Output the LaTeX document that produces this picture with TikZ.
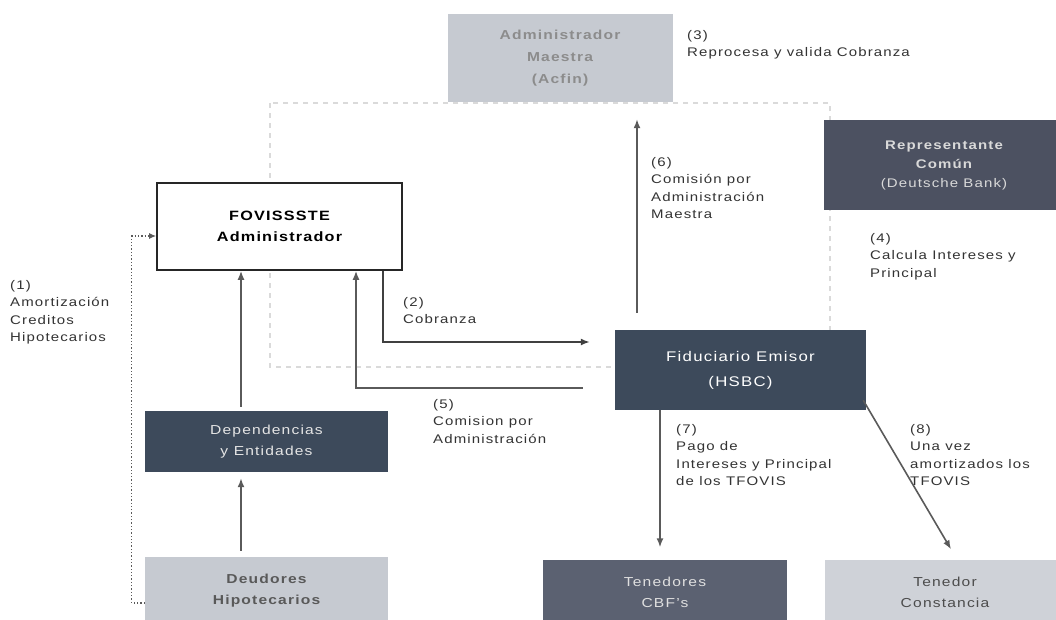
\documentclass[tikz,border=0pt]{standalone}
\usepackage{fontspec}
\setmainfont{Liberation Sans}[FakeStretch=1.2,LetterSpace=9]
\usepackage{xcolor}
\usepackage{tikz}
\usetikzlibrary{calc,arrows.meta}
\definecolor{slate}{HTML}{3D4A5B}
\definecolor{slatemid}{HTML}{5B6171}
\definecolor{slaterep}{HTML}{4C5161}
\definecolor{pale}{HTML}{C6CAD1}
\definecolor{paler}{HTML}{CFD2D8}
\definecolor{arrowgray}{HTML}{5A5A5A}
\definecolor{framegray}{HTML}{DADADA}

\begin{document}
\begin{tikzpicture}[x=1pt,y=-1pt,
    box/.style={inner sep=0pt,align=center,font=\fontsize{13}{21}\selectfont},
    lbl/.style={anchor=north west,inner sep=0pt,align=left,text=black!80,font=\fontsize{12.5}{17.5}\selectfont},
    arr/.style={draw=arrowgray,line width=1.6pt,-{Latex[length=9pt,width=7pt]}}]
    \useasboundingbox (0,0) rectangle (1056,619);
    \draw[framegray,line width=2pt,dash pattern=on 5pt off 5pt] (270,103) rectangle (830,367);
    \node[box,fill=pale,minimum width=225pt,minimum height=88pt,text=black!45,font=\bfseries\fontsize{13}{22}\selectfont] (maestro) at (560,58) {Administrador\\Maestra\\(Acfin)};
    \node[box,fill=slaterep,minimum width=240pt,minimum height=90pt,text=white!85!black,font=\bfseries\fontsize{12.5}{19}\selectfont] (repr) at (944,165) {Representante\\Común\\\mdseries(Deutsche Bank)};
    \node[box,draw=black!85,line width=1.6pt,fill=white,minimum width=245pt,minimum height=87pt,font=\bfseries\fontsize{13.5}{21}\selectfont] (fovi) at (279.5,226.5) {FOVISSSTE\\Administrador};
    \node[box,fill=slate,minimum width=251pt,minimum height=80pt,text=white,font=\fontsize{14}{25}\selectfont] (fidu) at (740.5,370) {Fiduciario Emisor\\(HSBC)};
    \node[box,fill=slate,minimum width=243pt,minimum height=61pt,text=white!90!black] (depend) at (266.5,441.5) {Dependencias\\y Entidades};
    \node[box,fill=pale,minimum width=243pt,minimum height=68pt,text=black!65,font=\bfseries\fontsize{13}{21}\selectfont] (deud) at (266.5,591) {Deudores\\Hipotecarios};
    \node[box,fill=slatemid,minimum width=244pt,minimum height=65pt,text=white!88!black] (tened) at (665,592) {Tenedores\\CBF's};
    \node[box,fill=paler,minimum width=240pt,minimum height=65pt,text=black!70] (const) at (945,592) {Tenedor\\Constancia};
    \draw[arr,shorten >=6pt,shorten <=6pt] ([xshift=-25.5pt]deud.north) -- ([xshift=-25.5pt]depend.south);
    \draw[arr,shorten <=4pt] ([xshift=-25.5pt]depend.north) -- ([xshift=-25.5pt]depend.north |- fovi.south);
    \draw[arrowgray,line width=1.3pt,dotted,-{Latex[length=7pt,width=6pt]}] ([yshift=-12pt]deud.west) -- ++(-13,0) |- ([yshift=-9.5pt]fovi.west);
    \draw[arr,draw=black!75] ([xshift=103.5pt]fovi.south) |- ([xshift=-25pt,yshift=28pt]fidu.west);
    \draw[arr] ([xshift=-32pt,yshift=-18pt]fidu.west) -| ([xshift=76.5pt]fovi.south);
    \coordinate (c6) at ([xshift=-103.5pt]fidu.north);
    \draw[arr] ($(c6)+(0,-17)$) -- ($(c6 |- maestro.south)+(0,17)$);
    \coordinate (c7) at ([xshift=-80.5pt]fidu.south);
    \draw[arr] (c7) -- ($(c7 |- tened.north)+(0,-12)$);
    \draw[arr] ($(fidu.south east)+(-3,-10)$) -- ($(const.north)+(6,-10)$);
    \node[lbl] (l1) at (10,280) {(1)\\Amortización\\Creditos\\Hipotecarios};
    \node[lbl] (l2) at (403,297) {(2)\\Cobranza};
    \node[lbl] (l3) at (687,30) {(3)\\Reprocesa y valida Cobranza};
    \node[lbl] (l4) at (870,233) {(4)\\Calcula Intereses y\\Principal};
    \node[lbl] (l5) at (433,399) {(5)\\Comision por\\Administración};
    \node[lbl] (l6) at (651,157) {(6)\\Comisión por\\Administración\\Maestra};
    \node[lbl] (l7) at (676,424) {(7)\\Pago de\\Intereses y Principal\\de los TFOVIS};
    \node[lbl] (l8) at (910,424) {(8)\\Una vez\\amortizados los\\TFOVIS};
\end{tikzpicture}
\end{document}
